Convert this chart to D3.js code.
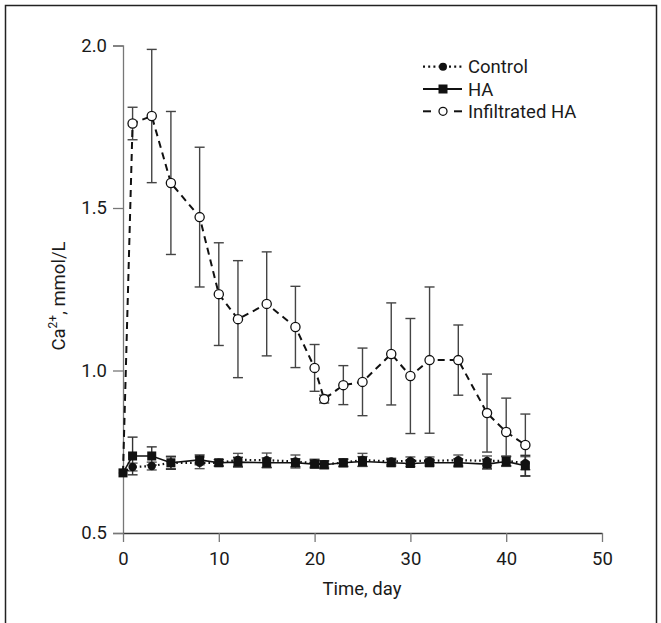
<!DOCTYPE html>
<html>
<head>
<meta charset="utf-8">
<script src="https://cdn.jsdelivr.net/npm/d3@7"></script>
<style>
  html, body { margin: 0; padding: 0; background: #fff; }
  svg { display: block; }
  text { font-family: Roboto, "Open Sans", sans-serif; }
</style>
</head>
<body>
<svg id="chart" width="661" height="623"></svg>
<script>
// ---- data ----
const days = [0, 1, 3, 5, 8, 10, 12, 15, 18, 20, 21, 23, 25, 28, 30, 32, 35, 38, 40, 42];

const controlMean = [0.685, 0.703, 0.706, 0.716, 0.716, 0.716, 0.725, 0.724, 0.720, 0.715, 0.712, 0.716, 0.725, 0.720, 0.722, 0.722, 0.724, 0.722, 0.722, 0.715];
const controlErr  = [0, 0.012, 0.012, 0.018, 0.018, 0.010, 0.020, 0.022, 0.020, 0.012, 0.010, 0.010, 0.020, 0.010, 0.012, 0.012, 0.016, 0.015, 0.015, 0.020];

const haMean = [0.685, 0.737, 0.737, 0.716, 0.725, 0.716, 0.718, 0.716, 0.716, 0.712, 0.710, 0.716, 0.720, 0.716, 0.714, 0.716, 0.716, 0.712, 0.720, 0.707];
const haErr  = [0, 0.058, 0.028, 0.020, 0.015, 0.010, 0.015, 0.015, 0.012, 0.012, 0.012, 0.012, 0.015, 0.010, 0.010, 0.010, 0.012, 0.015, 0.015, 0.032];

const infMean = [0.685, 1.760, 1.783, 1.577, 1.472, 1.235, 1.158, 1.205, 1.134, 1.008, 0.912, 0.955, 0.965, 1.051, 0.983, 1.032, 1.032, 0.869, 0.811, 0.771];
const infErr  = [0, 0.050, 0.205, 0.220, 0.215, 0.158, 0.180, 0.160, 0.125, 0.072, 0.012, 0.060, 0.104, 0.157, 0.177, 0.225, 0.108, 0.120, 0.104, 0.095];

const xTicks = [0, 10, 20, 30, 40, 50];
const yTicks = [0.5, 1.0, 1.5, 2.0];
const seriesNames = ["Control", "HA", "Infiltrated HA"];

// ---- layout ----
const FS = "18.5px";
const TXT = "#1a1a1a";
const svg = d3.select("#chart");
const x = d3.scaleLinear().domain([0, 50]).range([123, 602]);
const y = d3.scaleLinear().domain([0.5, 2.0]).range([533, 45.5]);

// outer frame
svg.append("path")
  .attr("d", "M5.5,630 V5.5 H656.5 V630")
  .attr("fill", "none").attr("stroke", "#222").attr("stroke-width", 1.5);

// axes
const yAxis = svg.append("g").attr("transform", `translate(${x(0)},0)`)
  .call(d3.axisLeft(y).tickValues(yTicks).tickFormat(d3.format(".1f")).tickSize(10).tickSizeOuter(10).tickPadding(6));
yAxis.select(".domain").attr("stroke", "#777").attr("stroke-width", 1.3);
yAxis.selectAll(".tick line").attr("stroke", "#777").attr("stroke-width", 1.3);
yAxis.selectAll("text").style("font-size", FS).attr("fill", TXT);

const xAxis = svg.append("g").attr("transform", `translate(0,${y(0.5)})`)
  .call(d3.axisBottom(x).tickValues(xTicks).tickFormat(d3.format("d")).tickSize(9).tickSizeOuter(0).tickPadding(10));
xAxis.select(".domain").attr("stroke", "#333").attr("stroke-width", 1.5);
xAxis.selectAll(".tick line").attr("stroke", "#777").attr("stroke-width", 1.3);
xAxis.selectAll("text").style("font-size", FS).attr("fill", TXT);

// axis titles
svg.append("text").attr("x", 362).attr("y", 595).attr("text-anchor", "middle")
  .attr("fill", TXT).style("font-size", FS).text("Time, day");

const yt = svg.append("text").attr("transform", "translate(65,296) rotate(-90)")
  .attr("text-anchor", "middle").attr("fill", TXT).style("font-size", FS);
yt.append("tspan").text("Ca");
yt.append("tspan").attr("dy", -8).style("font-size", "12px").text("2+");
yt.append("tspan").attr("dy", 8).text(", mmol/L");

// ---- series ----
function mk(mean, err) { return days.map((d, i) => ({ d, m: mean[i], e: err[i] })); }
const control = mk(controlMean, controlErr);
const ha = mk(haMean, haErr);
const inf = mk(infMean, infErr);

const line = d3.line().x(p => x(p.d)).y(p => y(p.m));

function errorBars(data, color) {
  const g = svg.append("g");
  data.filter(p => p.e > 0).forEach(p => {
    const cx = x(p.d), y1 = y(p.m + p.e), y2 = y(p.m - p.e);
    g.append("line").attr("x1", cx).attr("x2", cx).attr("y1", y1).attr("y2", y2)
      .attr("stroke", color).attr("stroke-width", 1.4);
    [y1, y2].forEach(yy => g.append("line").attr("x1", cx - 5).attr("x2", cx + 5)
      .attr("y1", yy).attr("y2", yy).attr("stroke", color).attr("stroke-width", 1.4));
  });
}

errorBars(inf, "#444");
errorBars(control, "#555");
errorBars(ha, "#333");

// lines
svg.append("path").datum(inf).attr("d", line).attr("fill", "none")
  .attr("stroke", "#111").attr("stroke-width", 2).attr("stroke-dasharray", "7,5");
svg.append("path").datum(control).attr("d", line).attr("fill", "none")
  .attr("stroke", "#111").attr("stroke-width", 2.2).attr("stroke-dasharray", "1.6,3");
svg.append("path").datum(ha).attr("d", line).attr("fill", "none")
  .attr("stroke", "#111").attr("stroke-width", 1.6);

// markers
svg.append("g").selectAll("circle").data(control).join("circle")
  .attr("cx", p => x(p.d)).attr("cy", p => y(p.m)).attr("r", 4.2).attr("fill", "#111");
svg.append("g").selectAll("rect").data(ha).join("rect")
  .attr("x", p => x(p.d) - 4.5).attr("y", p => y(p.m) - 4.5).attr("width", 9).attr("height", 9).attr("fill", "#111");
svg.append("g").selectAll("circle").data(inf.slice(1)).join("circle")
  .attr("cx", p => x(p.d)).attr("cy", p => y(p.m)).attr("r", 4.6)
  .attr("fill", "#fff").attr("stroke", "#111").attr("stroke-width", 1.3);

// ---- legend ----
const legend = svg.append("g");
const rows = [66.7, 89, 111.3];
const lx1 = 423, lx2 = 462, lm = 443, tx = 468;
seriesNames.forEach((name, i) => {
  const ly = rows[i];
  if (i === 0) {
    legend.append("line").attr("x1", lx1).attr("x2", lx2).attr("y1", ly).attr("y2", ly)
      .attr("stroke", "#111").attr("stroke-width", 2.2).attr("stroke-dasharray", "2,3.2");
    legend.append("circle").attr("cx", lm).attr("cy", ly).attr("r", 4).attr("fill", "#111");
  } else if (i === 1) {
    legend.append("line").attr("x1", lx1).attr("x2", lx2).attr("y1", ly).attr("y2", ly)
      .attr("stroke", "#111").attr("stroke-width", 1.8);
    legend.append("rect").attr("x", lm - 4.5).attr("y", ly - 4.5).attr("width", 9).attr("height", 9).attr("fill", "#111");
  } else {
    [[lx1, lx1 + 8], [lx2 - 8, lx2]].forEach(([a, b]) =>
      legend.append("line").attr("x1", a).attr("x2", b).attr("y1", ly).attr("y2", ly)
        .attr("stroke", "#111").attr("stroke-width", 2));
    legend.append("circle").attr("cx", lm).attr("cy", ly).attr("r", 4)
      .attr("fill", "#fff").attr("stroke", "#111").attr("stroke-width", 1.3);
  }
  legend.append("text").attr("x", tx).attr("y", ly + 6.5).attr("fill", TXT)
    .style("font-size", FS).text(name);
});
</script>
</body>
</html>
